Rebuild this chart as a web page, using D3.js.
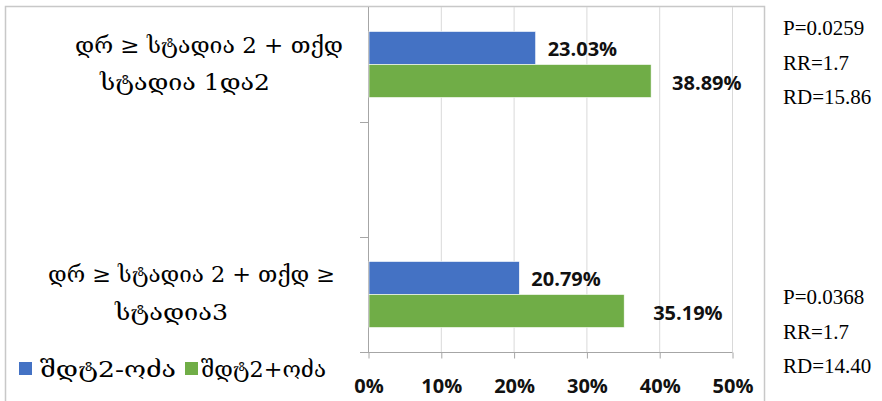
<!DOCTYPE html>
<html>
<head>
<meta charset="utf-8">
<script src="https://cdn.jsdelivr.net/npm/d3@7"></script>
<style>
  html, body { margin: 0; padding: 0; background: #fff; }
  svg { display: block; }
</style>
</head>
<body>
<svg id="chart" width="882" height="401"></svg>
<script>
// Category labels (wrapped lines); the middle category is an empty spacer row
const categoryLines = [
  ["დრ ≥ სტადია 2 + თქდ", "სტადია 1და2"],
  [],
  ["დრ ≥ სტადია 2 + თქდ ≥", "სტადია3"]
];
const seriesNames = ["შდტ2-ოძა", "შდტ2+ოძა"];
const seriesColors = ["#4472C4", "#70AD47"];
const minusValues = [23.03, null, 20.79];   // შდტ2-ოძა, %
const plusValues  = [38.89, null, 35.19];   // შდტ2+ოძა, %
const xTicks = [0, 10, 20, 30, 40, 50];
const statLines = [
  ["P=0.0259", "RR=1.7", "RD=15.86"],
  ["P=0.0368", "RR=1.7", "RD=14.40"]
];

const svg = d3.select("#chart");

// plot area
const plot = { left: 368, right: 732, top: 7, bottom: 352 };

const x = d3.scaleLinear().domain([0, 50]).range([plot.left, plot.right]);
const y = d3.scaleBand().domain(d3.range(categoryLines.length))
  .range([plot.top, plot.bottom]).paddingInner(0).paddingOuter(0);
const ySub = d3.scaleBand().domain([0, 1]).range([0, y.bandwidth()])
  .paddingInner(0).paddingOuter(0.742);

// outer chart frame
svg.append("rect")
  .attr("x", 5.5).attr("y", 6.5).attr("width", 759).attr("height", 430)
  .attr("fill", "none").attr("stroke", "#c8c8c8").attr("stroke-width", 1.5);

// vertical gridlines
svg.append("g").selectAll("line")
  .data(xTicks.filter(t => t > 0))
  .join("line")
  .attr("x1", d => x(d) + 0.5).attr("x2", d => x(d) + 0.5)
  .attr("y1", plot.top).attr("y2", plot.bottom)
  .attr("stroke", "#d9d9d9").attr("stroke-width", 1);

// bottom value axis
const xAxis = d3.axisBottom(x).tickValues(xTicks).tickSize(6).tickFormat(d => d + "%");
const gx = svg.append("g").attr("transform", `translate(0.5,${plot.bottom + 0.5})`).call(xAxis);
gx.select(".domain").remove();
gx.append("line").attr("x1", plot.left - 8.5).attr("x2", plot.right).attr("y1", 0).attr("y2", 0)
  .attr("stroke", "#a6a6a6");
gx.selectAll(".tick line").attr("stroke", "#a6a6a6");
gx.selectAll(".tick text")
  .attr("y", 0).attr("dy", null)
  .attr("transform", "translate(0,40)")
  .style("font-family", "'Open Sans', sans-serif")
  .style("font-weight", "bold").style("font-size", "20px").attr("fill", "#111");

// left category axis with ticks at band boundaries
const gy = svg.append("g");
gy.append("line").attr("x1", plot.left + 0.5).attr("x2", plot.left + 0.5)
  .attr("y1", plot.top).attr("y2", plot.bottom).attr("stroke", "#a6a6a6");
gy.selectAll("line.tk")
  .data(d3.range(1, categoryLines.length))
  .join("line").attr("class", "tk")
  .attr("x1", plot.left - 8).attr("x2", plot.left)
  .attr("y1", d => y(d) + 0.5).attr("y2", d => y(d) + 0.5)
  .attr("stroke", "#a6a6a6");

// bars
const series = [minusValues, plusValues];
const barData = [];
series.forEach((vals, s) => vals.forEach((v, i) => {
  if (v != null) barData.push({ s, i, v });
}));

svg.append("g").selectAll("rect")
  .data(barData)
  .join("rect")
  .attr("x", plot.left + 1)
  .attr("y", d => y(d.i) + ySub(d.s))
  .attr("width", d => x(d.v) - plot.left - 1)
  .attr("height", ySub.bandwidth())
  .attr("fill", d => seriesColors[d.s])
  .attr("stroke", "#ffffff").attr("stroke-width", 0.6);

// value labels, nudged right of the bar ends
const labelNudge = { "0-0": 12, "1-0": 21, "0-2": 12, "1-2": 29 };
svg.append("g").selectAll("text")
  .data(barData)
  .join("text")
  .attr("x", d => x(d.v) + labelNudge[d.s + "-" + d.i])
  .attr("y", d => y(d.i) + ySub(d.s) + ySub.bandwidth() / 2 + 8.5)
  .attr("fill", "#111")
  .style("font-family", "'Open Sans', sans-serif")
  .style("font-weight", "bold").style("font-size", "20px")
  .text(d => d.v.toFixed(2) + "%");

// category labels (Georgian serif text)
const catLayout = [
  [{ x: 75, y: 53, w: 268 }, { x: 100, y: 90, w: 170 }],
  [],
  [{ x: 48, y: 282, w: 287 }, { x: 115, y: 320, w: 113 }]
];
categoryLines.forEach((lines, i) => {
  lines.forEach((ln, j) => {
    const p = catLayout[i][j];
    svg.append("text")
      .attr("x", p.x).attr("y", p.y)
      .attr("textLength", p.w).attr("lengthAdjust", "spacingAndGlyphs")
      .style("font-family", "'DejaVu Serif', serif").style("font-size", "22px")
      .attr("fill", "#000")
      .text(ln);
  });
});

// legend
const legendLayout = [{ sx: 19, tx: 40, tw: 136 }, { sx: 185, tx: 201, tw: 125 }];
const lg = svg.append("g");
seriesNames.forEach((name, s) => {
  const p = legendLayout[s];
  lg.append("rect").attr("x", p.sx).attr("y", 362).attr("width", 13).attr("height", 13)
    .attr("fill", seriesColors[s]);
  lg.append("text").attr("x", p.tx).attr("y", 377)
    .attr("textLength", p.tw).attr("lengthAdjust", "spacingAndGlyphs")
    .style("font-family", "'DejaVu Serif', serif").style("font-size", "23px")
    .attr("fill", "#000").text(name);
});

// statistics beside each comparison
const statTop = [35, 304];
statLines.forEach((lines, g) => {
  lines.forEach((t, k) => {
    svg.append("text")
      .attr("x", 783).attr("y", statTop[g] + k * 34.5)
      .style("font-family", "'Liberation Serif', 'Times New Roman', serif")
      .style("font-size", "21px").attr("fill", "#000")
      .text(t);
  });
});
</script>
</body>
</html>
